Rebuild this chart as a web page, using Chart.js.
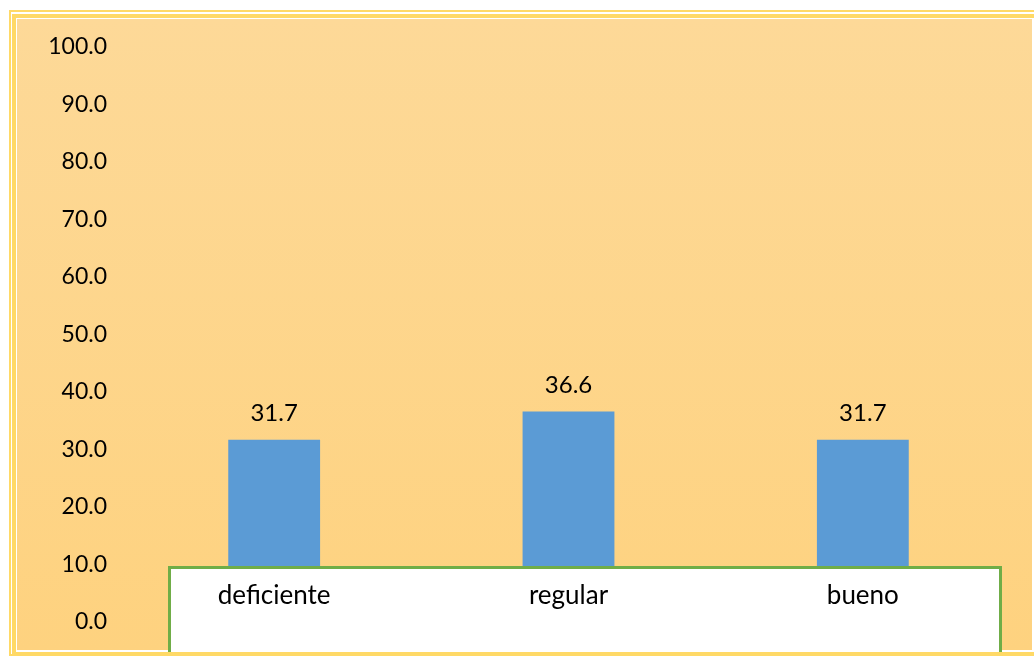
<!DOCTYPE html>
<html>
<head>
<meta charset="utf-8">
<script src="https://cdn.jsdelivr.net/npm/chart.js@4"></script>
<style>
  html, body { margin: 0; padding: 0; background: #fff; }
  #wrap { width: 1034px; height: 658px; }
</style>
</head>
<body>
<div id="wrap"><canvas id="chart" width="1034" height="658"></canvas></div>
<script>
const categories = ['deficiente', 'regular', 'bueno'];
const values = [31.7, 36.6, 31.7];
const yTicks = [0, 10, 20, 30, 40, 50, 60, 70, 80, 90, 100];

const FONT = 'Lato, Carlito, Calibri, sans-serif';

// frame + gradient fill behind everything
const framePlugin = {
  id: 'frame',
  beforeDraw(chart) {
    const ctx = chart.ctx;
    ctx.save();
    ctx.fillStyle = '#fff';
    ctx.fillRect(0, 0, chart.width, chart.height);
    ctx.strokeStyle = '#FFD966';
    ctx.lineWidth = 2;
    ctx.strokeRect(10, 11, 1040, 644);
    ctx.lineWidth = 4;
    ctx.strokeRect(14, 16, 1030, 638);
    const g = ctx.createLinearGradient(0, 19, 0, 650);
    g.addColorStop(0, '#FDD998');
    g.addColorStop(1, '#FED27F');
    ctx.fillStyle = g;
    ctx.fillRect(17, 19, 1015, 631);
    ctx.restore();
  }
};

// white box over the bar bases, then value labels above each bar
const overlayPlugin = {
  id: 'overlay',
  afterDatasetsDraw(chart) {
    const ctx = chart.ctx;
    ctx.save();
    ctx.fillStyle = '#fff';
    ctx.fillRect(169, 567, 832, 84);
    ctx.strokeStyle = '#70AD47';
    ctx.lineWidth = 3;
    ctx.beginPath();
    ctx.moveTo(169.5, 652);
    ctx.lineTo(169.5, 567.5);
    ctx.lineTo(1000.5, 567.5);
    ctx.lineTo(1000.5, 652);
    ctx.stroke();

    ctx.fillStyle = '#000';
    ctx.font = '24px ' + FONT;
    ctx.textAlign = 'center';
    ctx.textBaseline = 'middle';
    chart.getDatasetMeta(0).data.forEach((bar, i) => {
      ctx.fillText(values[i].toFixed(1), bar.x, bar.y - 26);
    });
    ctx.restore();
  }
};

new Chart(document.getElementById('chart'), {
  type: 'bar',
  data: {
    labels: categories,
    datasets: [{
      data: values,
      backgroundColor: '#5B9BD5',
      borderWidth: 0,
      barPercentage: 0.39,
      categoryPercentage: 0.8
    }]
  },
  options: {
    responsive: false,
    animation: false,
    layout: { padding: { left: 47, right: 24, top: 47, bottom: 36 } },
    plugins: { legend: { display: false }, tooltip: { enabled: false } },
    scales: {
      x: {
        grid: { display: false, drawTicks: false },
        border: { display: false },
        ticks: { z: 1, mirror: true, color: '#000', font: { family: FONT, size: 26 }, padding: 11, maxRotation: 0 },
        afterFit(scale) { scale.height = 0; }
      },
      y: {
        min: 0,
        max: 100,
        grid: { display: false, drawTicks: false },
        border: { display: false },
        afterBuildTicks(scale) { scale.ticks = yTicks.map(v => ({ value: v })); },
        afterFit(scale) { scale.width = 80; },
        ticks: {
          color: '#000',
          padding: 20,
          font: { family: FONT, size: 23 },
          callback: v => Number(v).toFixed(1)
        }
      }
    }
  },
  plugins: [framePlugin, overlayPlugin]
});
</script>
</body>
</html>
